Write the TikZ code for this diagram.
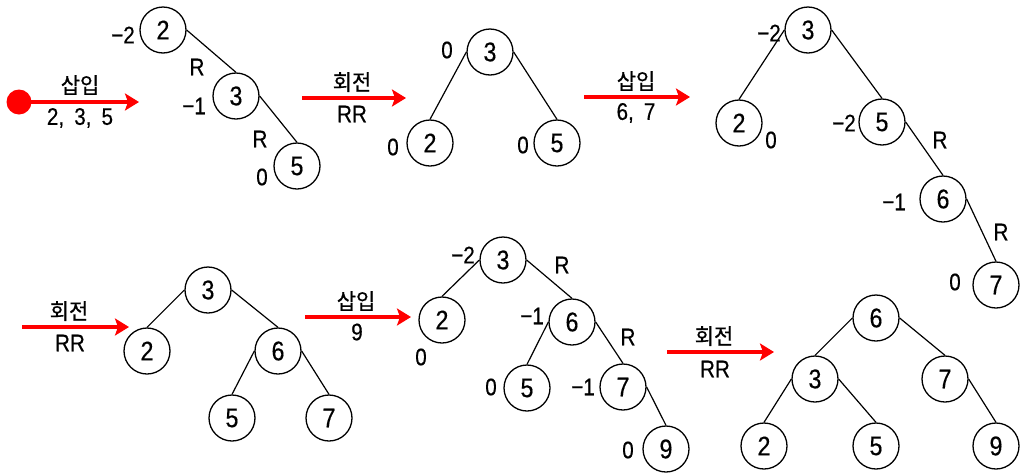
\documentclass[tikz,border=0pt]{standalone}
\usepackage{fontspec}
\setmainfont{Liberation Sans}[FakeStretch=0.86,FakeBold=0.4]
\newfontfamily\krfont{Noto Sans CJK KR}[FakeStretch=0.95,FakeBold=0.5]
\usetikzlibrary{arrows.meta}
\newcommand{\sep}{,\hspace{0.42em}}
\begin{document}
\begin{tikzpicture}[x=1pt,y=-1pt,
  nd/.style={circle,draw,line width=1.3pt,minimum size=46pt,inner sep=0pt,
             font=\fontsize{27}{27}\selectfont},
  lb/.style={inner sep=0pt,font=\fontsize{24}{24}\selectfont},
  kr/.style={inner sep=0pt,font=\krfont\fontsize{22}{22}\selectfont},
  edge/.style={line width=1.2pt},
  redarrow/.style={draw=red,line width=3.5pt,
                   -{Stealth[length=14pt,width=17pt,inset=3pt]}}]
\useasboundingbox (0,0) rectangle (1020,472);

% ---- step 1: insert 2, 3, 5 ----
\node[circle,fill=red,minimum size=25pt,inner sep=0pt] (start) at (19,102) {};
\coordinate (a1e) at (139,102);
\draw[redarrow] (start.center) -- (a1e);
\node[kr] (a1t) at (80,85) {삽입};
\node[lb] (a1b) at (80,118) {2\sep 3\sep 5};

\node[nd] (t1a) at (163,30) {2};
\node[nd] (t1b) at (236,96) {3};
\node[nd] (t1c) at (297,166) {5};
\draw[edge] (t1a.east) -- (t1b.north);
\draw[edge] (t1b.east) -- (t1c.north);
\node[lb] (t1l1) at (123,35) {−2};
\node[lb] (t1l2) at (197,67) {R};
\node[lb] (t1l3) at (194,106) {−1};
\node[lb] (t1l4) at (260,139) {R};
\node[lb] (t1l5) at (262,177) {0};

% ---- step 2: RR rotation ----
\coordinate (a2s) at (302,98);
\coordinate (a2e) at (406,98);
\draw[redarrow] (a2s) -- (a2e);
\node[kr] (a2t) at (352,82) {회전};
\node[lb] (a2b) at (352,114) {RR};

\node[nd] (t2a) at (490,52) {3};
\node[nd] (t2b) at (430,143) {2};
\node[nd] (t2c) at (557,143) {5};
\draw[edge] (t2a.west) -- (t2b.north);
\draw[edge] (t2a.east) -- (t2c.north);
\node[lb] (t2l1) at (447,50) {0};
\node[lb] (t2l2) at (393,147) {0};
\node[lb] (t2l3) at (523,145) {0};

% ---- step 3: insert 6, 7 ----
\coordinate (a3s) at (584,97);
\coordinate (a3e) at (690,97);
\draw[redarrow] (a3s) -- (a3e);
\node[kr] (a3t) at (636,81) {삽입};
\node[lb] (a3b) at (636,113) {6\sep 7};

\node[nd] (t3a) at (808,30) {3};
\node[nd] (t3b) at (739,123) {2};
\node[nd] (t3c) at (882,122) {5};
\node[nd] (t3d) at (943,199) {6};
\node[nd] (t3e) at (996,285) {7};
\draw[edge] (t3a.west) -- (t3b.north);
\draw[edge] (t3a.east) -- (t3c.north);
\draw[edge] (t3c.east) -- (t3d.north);
\draw[edge] (t3d.east) -- (t3e.north);
\node[lb] (t3l1) at (769,33) {−2};
\node[lb] (t3l2) at (771,140) {0};
\node[lb] (t3l3) at (844,123) {−2};
\node[lb] (t3l4) at (940,140) {R};
\node[lb] (t3l5) at (894,202) {−1};
\node[lb] (t3l6) at (1001,232) {R};
\node[lb] (t3l7) at (955,282) {0};

% ---- step 4: RR rotation ----
\coordinate (a4s) at (22,327);
\coordinate (a4e) at (129,327);
\draw[redarrow] (a4s) -- (a4e);
\node[kr] (a4t) at (69,311) {회전};
\node[lb] (a4b) at (70,343) {RR};

\node[nd] (t4a) at (208,290) {3};
\node[nd] (t4b) at (147,351) {2};
\node[nd] (t4c) at (278,351) {6};
\node[nd] (t4d) at (232,418) {5};
\node[nd] (t4e) at (329,418) {7};
\draw[edge] (t4a.west) -- (t4b.north);
\draw[edge] (t4a.east) -- (t4c.north);
\draw[edge] (t4c.west) -- (t4d.north);
\draw[edge] (t4c.east) -- (t4e.north);

% ---- step 5: insert 9 ----
\coordinate (a5s) at (305,317);
\coordinate (a5e) at (411,317);
\draw[redarrow] (a5s) -- (a5e);
\node[kr] (a5t) at (356,301) {삽입};
\node[lb] (a5b) at (357,332) {9};

\node[nd] (t5a) at (503,260) {3};
\node[nd] (t5b) at (442,320) {2};
\node[nd] (t5c) at (572,322) {6};
\node[nd] (t5d) at (527,388) {5};
\node[nd] (t5e) at (623,387) {7};
\node[nd] (t5f) at (666,449) {9};
\draw[edge] (t5a.west) -- (t5b.north);
\draw[edge] (t5a.east) -- (t5c.north);
\draw[edge] (t5c.west) -- (t5d.north);
\draw[edge] (t5c.east) -- (t5e.north);
\draw[edge] (t5e.east) -- (t5f.north);
\node[lb] (t5l1) at (463,255) {−2};
\node[lb] (t5l2) at (562,265) {R};
\node[lb] (t5l3) at (421,357) {0};
\node[lb] (t5l4) at (532,316) {−1};
\node[lb] (t5l5) at (628,337) {R};
\node[lb] (t5l6) at (491,387) {0};
\node[lb] (t5l7) at (583,387) {−1};
\node[lb] (t5l8) at (628,450) {0};

% ---- step 6: RR rotation ----
\coordinate (a6s) at (667,352);
\coordinate (a6e) at (774,352);
\draw[redarrow] (a6s) -- (a6e);
\node[kr] (a6t) at (714,336) {회전};
\node[lb] (a6b) at (715,369) {RR};

\node[nd] (t6a) at (876,318) {6};
\node[nd] (t6b) at (815,379) {3};
\node[nd] (t6c) at (945,379) {7};
\node[nd] (t6d) at (764,446) {2};
\node[nd] (t6e) at (876,446) {5};
\node[nd] (t6f) at (996,446) {9};
\draw[edge] (t6a.west) -- (t6b.north);
\draw[edge] (t6a.east) -- (t6c.north);
\draw[edge] (t6b.west) -- (t6d.north);
\draw[edge] (t6b.east) -- (t6e.north);
\draw[edge] (t6c.east) -- (t6f.north);
\end{tikzpicture}
\end{document}
